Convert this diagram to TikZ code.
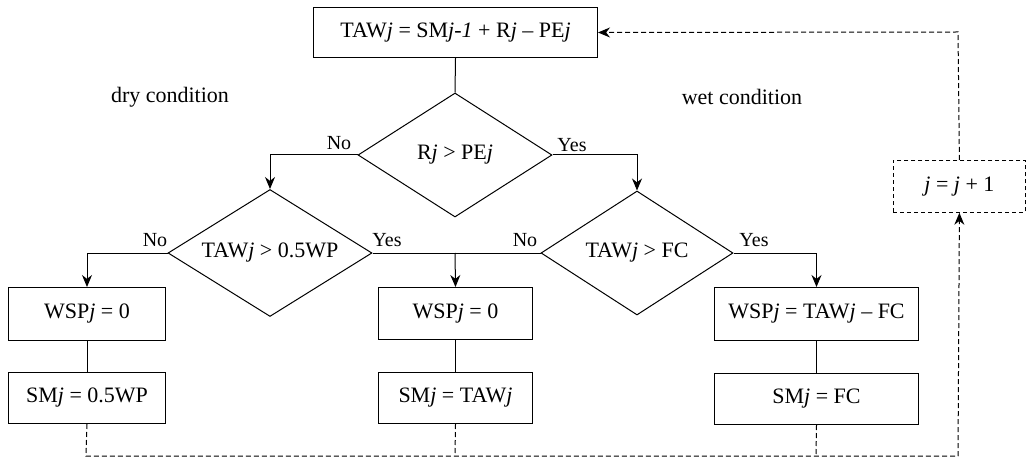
\documentclass[tikz,border=0pt]{standalone}
\usepackage{fontspec}
\setmainfont{Liberation Serif}
\usetikzlibrary{shapes.geometric,arrows.meta}
\begin{document}
\begin{tikzpicture}[x=1pt,y=-1pt,
  every node/.style={font=\fontsize{22}{26}\selectfont},
  box/.style={draw,line width=1pt,inner sep=0pt,anchor=north west},
  dia/.style={draw,line width=1pt,diamond,inner sep=0pt,aspect=1.6},
  ln/.style={line width=1pt},
  arr/.style={ln,-{Stealth[length=12pt,width=10pt]}},
  dsh/.style={ln,dash pattern=on 5pt off 3pt},
  lab/.style={font=\fontsize{20}{24}\selectfont}]
\useasboundingbox (0,0) rectangle (1032,470);
\node[box,minimum width=284,minimum height=50] (top) at (313,7) {};
\node at (top.center) {TAW\textit{j} = SM\textit{j-1} + R\textit{j} -- PE\textit{j}};
\node[dia,minimum width=194,minimum height=124] (d1) at (455,155) {R\textit{j} > PE\textit{j}};
\node[dia,minimum width=204,minimum height=127] (d2) at (270,253) {TAW\textit{j} > 0.5WP};
\node[dia,minimum width=192,minimum height=124] (d3) at (637,253) {TAW\textit{j} > FC};
\node[box,minimum width=157,minimum height=53] (w1) at (8,287) {};
\node at (w1.center) {WSP\textit{j} = 0};
\node[box,minimum width=157,minimum height=51] (s1) at (8,372) {};
\node at (s1.center) {SM\textit{j} = 0.5WP};
\node[box,minimum width=154,minimum height=52] (w2) at (378,287) {};
\node at (w2.center) {WSP\textit{j} = 0};
\node[box,minimum width=154,minimum height=51] (s2) at (378,372) {};
\node at (s2.center) {SM\textit{j} = TAW\textit{j}};
\node[box,minimum width=204,minimum height=53] (w3) at (714,287) {};
\node at (w3.center) {WSP\textit{j} = TAW\textit{j} -- FC};
\node[box,minimum width=204,minimum height=51] (s3) at (714,373) {};
\node at (s3.center) {SM\textit{j} = FC};
\node[box,dash pattern=on 4pt off 3pt,line width=0.8pt,minimum width=132,minimum height=52] (jj) at (893,160) {};
\node at (jj.center) {\textit{j} = \textit{j} + 1};
\node at (170,97) {dry condition};
\node at (742,97) {wet condition};
\coordinate (c4) at (455,253);
\draw[ln] (top.south) -- (d1.north);
\draw[arr] (d1.west) -| (d2.north);
\draw[arr] (d1.east) -| (d3.north);
\draw[arr] (d2.west) -| (w1.north);
\draw[ln] (d2.east) -- (c4);
\draw[ln] (d3.west) -- (c4);
\draw[arr] (c4) -- (w2.north);
\draw[arr] (d3.east) -| (w3.north);
\node[lab] at (339,143) {No};
\node[lab] at (572,145) {Yes};
\node[lab] at (155,240) {No};
\node[lab] at (387,240) {Yes};
\node[lab] at (525,240) {No};
\node[lab] at (754,240) {Yes};
\draw[ln] (w1.south) -- (s1.north);
\draw[ln] (w2.south) -- (s2.north);
\draw[ln] (w3.south) -- (s3.north);
\coordinate (b1) at (86,456); \coordinate (b2) at (455,456);
\coordinate (b3) at (816,456); \coordinate (b4) at (958,456);
\coordinate (t1) at (958,32);
\draw[dsh] (s1.south) -- (b1) -- (b4);
\draw[dsh] (s2.south) -- (b2);
\draw[dsh] (s3.south) -- (b3);
\draw[dsh,-{Stealth[length=12pt,width=10pt]}] (b4) -- (jj.south);
\draw[dsh,-{Stealth[length=12pt,width=10pt]}] (jj.north) -- (t1) -- (top.east);
\end{tikzpicture}
\end{document}
